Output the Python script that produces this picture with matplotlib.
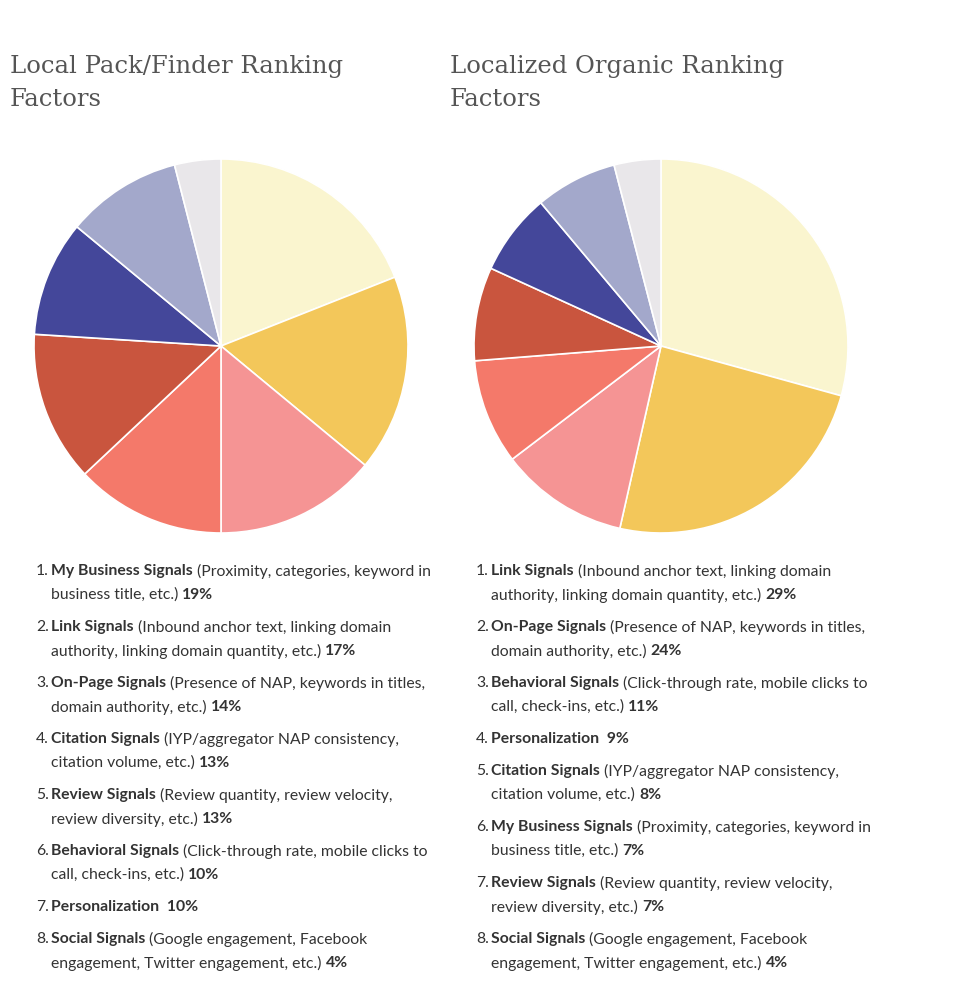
import matplotlib
matplotlib.use("Agg")
import matplotlib.pyplot as plt

W, H = 967, 1006
colors = ["#FAF5CF", "#F3C75A", "#F59494", "#F4796A", "#C9553E", "#44479A", "#A3A8CB", "#E9E7EA"]

left_title = "Local Pack/Finder Ranking\nFactors"
left_values = [19, 17, 14, 13, 13, 10, 10, 4]
left_names = ["My Business Signals", "Link Signals", "On-Page Signals", "Citation Signals",
              "Review Signals", "Behavioral Signals", "Personalization", "Social Signals"]
left_desc = [
    ("(Proximity, categories, keyword in", "business title, etc.)"),
    ("(Inbound anchor text, linking domain", "authority, linking domain quantity, etc.)"),
    ("(Presence of NAP, keywords in titles,", "domain authority, etc.)"),
    ("(IYP/aggregator NAP consistency,", "citation volume, etc.)"),
    ("(Review quantity, review velocity,", "review diversity, etc.)"),
    ("(Click-through rate, mobile clicks to", "call, check-ins, etc.)"),
    None,
    ("(Google engagement, Facebook", "engagement, Twitter engagement, etc.)"),
]

right_title = "Localized Organic Ranking\nFactors"
right_values = [29, 24, 11, 9, 8, 7, 7, 4]
right_names = ["Link Signals", "On-Page Signals", "Behavioral Signals", "Personalization",
               "Citation Signals", "My Business Signals", "Review Signals", "Social Signals"]
right_desc = [
    ("(Inbound anchor text, linking domain", "authority, linking domain quantity, etc.)"),
    ("(Presence of NAP, keywords in titles,", "domain authority, etc.)"),
    ("(Click-through rate, mobile clicks to", "call, check-ins, etc.)"),
    None,
    ("(IYP/aggregator NAP consistency,", "citation volume, etc.)"),
    ("(Proximity, categories, keyword in", "business title, etc.)"),
    ("(Review quantity, review velocity,", "review diversity, etc.)"),
    ("(Google engagement, Facebook", "engagement, Twitter engagement, etc.)"),
]

fig = plt.figure(figsize=(W / 100, H / 100), dpi=100)
fig.patch.set_facecolor("white")
renderer = fig.canvas.get_renderer()
FS = 11.3
TXT = "#333333"


def fx(x):
    return x / W


def fy(y):
    return 1 - y / H


def draw_runs(x, y, runs):
    for text, bold in runs:
        t = fig.text(fx(x), fy(y), text, fontsize=FS, family="Lato", color=TXT,
                     fontweight="bold" if bold else "normal", va="center", ha="left")
        x += t.get_window_extent(renderer).width


def draw_panel(cx, title, values, names, desc, tx):
    r = 187
    ax = fig.add_axes([fx(cx - r), fy(346 + r), (2 * r) / W, (2 * r) / H])
    ax.pie(values, colors=colors, startangle=90, counterclock=False, radius=1,
           wedgeprops=dict(edgecolor="white", linewidth=1.2))
    ax.set_xlim(-1, 1)
    ax.set_ylim(-1, 1)
    ax.set_aspect("equal")
    fig.text(fx(tx - 41), fy(83), title, fontsize=17.5, family="DejaVu Serif", color="#555555",
             fontweight="light", va="center", ha="left", linespacing=1.6)
    y = 571
    for i, (name, v) in enumerate(zip(names, values)):
        fig.text(fx(tx - 2), fy(y), f"{i + 1}.", fontsize=FS, family="Lato", color=TXT,
                 va="center", ha="right")
        if desc[i] is None:
            draw_runs(tx, y, [(f"{name}  {v}%", True)])
            y += 32
        else:
            draw_runs(tx, y, [(name + " ", True), (desc[i][0], False)])
            draw_runs(tx, y + 24, [(desc[i][1] + " ", False), (f"{v}%", True)])
            y += 56


draw_panel(221, left_title, left_values, left_names, left_desc, 51)
draw_panel(661, right_title, right_values, right_names, right_desc, 491)

fig.savefig("out.png", dpi=100, facecolor="white")
